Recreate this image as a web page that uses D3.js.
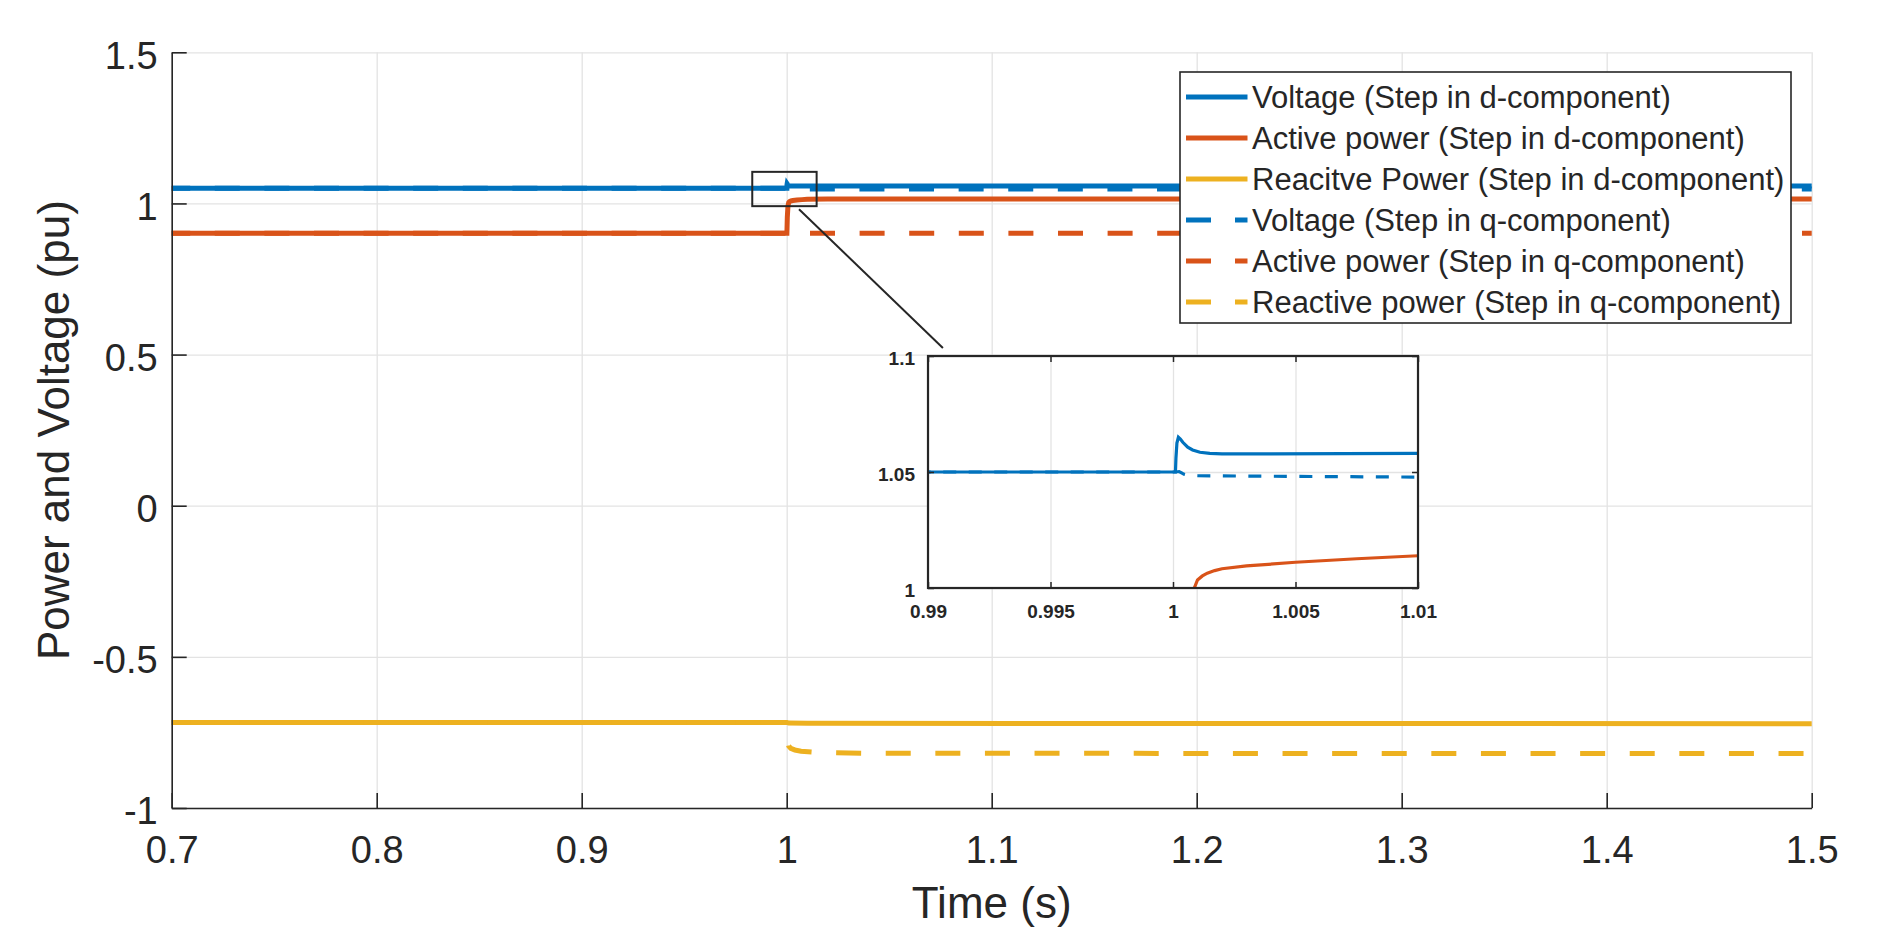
<!DOCTYPE html>
<html><head><meta charset="utf-8">
<script src="https://cdn.jsdelivr.net/npm/d3@7/dist/d3.min.js"></script>
<style>
html,body{margin:0;padding:0;background:#fff;}
svg{display:block;font-family:"Liberation Sans",Arial,Helvetica,sans-serif;}
</style></head><body>
<svg id="chart" width="1884" height="929"></svg>
<script>
// ---- data (time in s, value in pu) ----
const voltageD = [[0.7,1.05],[1.0001,1.05],[1.00012,1.056],[1.00016,1.0625],[1.00022,1.065],[1.0003,1.0642],[1.0004,1.0628],[1.0006,1.0607],[1.0008,1.0595],[1.0011,1.0585],[1.0015,1.058],[1.002,1.0578],[1.004,1.0578],[1.01,1.058],[1.1,1.058],[1.5,1.058]];
const activeD = [[0.7,0.901],[1.0001,0.901],[1.0003,0.955],[1.0006,0.99],[1.00087,1.0],[1.001,1.0035],[1.0012,1.0052],[1.0014,1.0064],[1.0017,1.0075],[1.002,1.0083],[1.003,1.0095],[1.005,1.0111],[1.0075,1.0126],[1.01,1.0139],[1.02,1.0143],[1.05,1.0145],[1.5,1.015]];
const reactiveD = [[0.7,-0.717],[1.0001,-0.717],[1.001,-0.719],[1.01,-0.72],[1.5,-0.721]];
const voltageQ = [[0.7,1.05],[1.0001,1.05],[1.00025,1.0502],[1.00035,1.0496],[1.00045,1.049],[1.0006,1.0486],[1.001,1.0484],[1.005,1.0481],[1.01,1.0478],[1.1,1.0478],[1.5,1.0478]];
const activeQ = [[0.7,0.901],[1.0,0.901],[1.5,0.901]];
const reactiveQ = [[0.7,-0.717],[1.0001,-0.717],[1.0003,-0.775],[1.001,-0.795],[1.002,-0.803],[1.004,-0.808],[1.007,-0.812],[1.015,-0.816],[1.04,-0.819],[1.5,-0.82]];

const seriesNames = ["Voltage (Step in d-component)","Active power (Step in d-component)","Reacitve Power (Step in d-component)","Voltage (Step in q-component)","Active power (Step in q-component)","Reactive power (Step in q-component)"];

const xTicks = [0.7,0.8,0.9,1.0,1.1,1.2,1.3,1.4,1.5];
const xTickLabels = ["0.7","0.8","0.9","1","1.1","1.2","1.3","1.4","1.5"];
const yTicks = [-1,-0.5,0,0.5,1,1.5];
const yTickLabels = ["-1","-0.5","0","0.5","1","1.5"];

const insetXTicks = [0.99,0.995,1.0,1.005,1.01];
const insetXTickLabels = ["0.99","0.995","1","1.005","1.01"];
const insetYTicks = [1.0,1.05,1.1];
const insetYTickLabels = ["1","1.05","1.1"];

// zoom annotation (data units of the main axes)
const zoomBox = {x0:0.9832, x1:1.0146, y0:0.991, y1:1.1045};
const connector = [[1.006,0.981],[1.0762,0.5215]];

// ---- styling ----
const colors = ["#0072BD","#D95319","#EDB120","#0072BD","#D95319","#EDB120"];
const dashed = [false,false,false,true,true,true];
const allSeries = [voltageD,activeD,reactiveD,voltageQ,activeQ,reactiveQ];
const ink = "#262626", gridCol = "#e3e3e3";

const svg = d3.select("#chart");
const x = d3.scaleLinear().domain([0.7,1.5]).range([171.7,1811.7]);
const y = d3.scaleLinear().domain([-1,1.5]).range([808,52.3]);

// grid
svg.append("g").attr("transform",`translate(0,${y.range()[0]})`)
  .call(d3.axisBottom(x).tickValues(xTicks).tickSize(-(y.range()[0]-y.range()[1])).tickFormat(""))
  .call(g=>{g.select(".domain").remove(); g.selectAll("line").attr("stroke",gridCol).attr("stroke-width",1.3);});
svg.append("g").attr("transform",`translate(${x.range()[0]},0)`)
  .call(d3.axisLeft(y).tickValues(yTicks).tickSize(-(x.range()[1]-x.range()[0])).tickFormat(""))
  .call(g=>{g.select(".domain").remove(); g.selectAll("line").attr("stroke",gridCol).attr("stroke-width",1.3);});

// lines
const line = d3.line().x(d=>x(d[0])).y(d=>y(d[1]));
allSeries.forEach((s,i)=>{
  svg.append("path").datum(s).attr("d",line).attr("fill","none")
    .attr("stroke",colors[i]).attr("stroke-width",5)
    .attr("stroke-dasharray",dashed[i]?"25,24.6":null)
    .attr("stroke-dashoffset",dashed[i]?6.5:null);
});

// axes
const fs = 38;
svg.append("g").attr("transform",`translate(0,${y.range()[0]})`)
  .call(d3.axisBottom(x).tickValues(xTicks).tickFormat((d,i)=>xTickLabels[i]).tickSize(-15).tickSizeOuter(0).tickPadding(28))
  .call(g=>{g.select(".domain").attr("stroke",ink).attr("stroke-width",1.6);
    g.selectAll("line").attr("stroke",ink).attr("stroke-width",1.6);
    g.selectAll("text").attr("fill",ink).attr("font-size",fs).attr("font-family",null);});
svg.append("g").attr("transform",`translate(${x.range()[0]},0)`)
  .call(d3.axisLeft(y).tickValues(yTicks).tickFormat((d,i)=>yTickLabels[i]).tickSize(-15).tickSizeOuter(0).tickPadding(14))
  .call(g=>{g.select(".domain").attr("stroke",ink).attr("stroke-width",1.6);
    g.selectAll("line").attr("stroke",ink).attr("stroke-width",1.6);
    g.selectAll("text").attr("fill",ink).attr("font-size",fs).attr("font-family",null).attr("dy","0.42em");});

// axis titles
svg.append("text").attr("x",(x.range()[0]+x.range()[1])/2).attr("y",918)
  .attr("text-anchor","middle").attr("font-size",44).attr("fill",ink).text("Time (s)");
svg.append("text").attr("transform",`translate(68.5,${(y.range()[0]+y.range()[1])/2}) rotate(-90)`)
  .attr("text-anchor","middle").attr("font-size",44).attr("fill",ink).text("Power and Voltage (pu)");

// zoom box + connector
svg.append("rect").attr("x",x(zoomBox.x0)).attr("y",y(zoomBox.y1))
  .attr("width",x(zoomBox.x1)-x(zoomBox.x0)).attr("height",y(zoomBox.y0)-y(zoomBox.y1))
  .attr("fill","none").attr("stroke",ink).attr("stroke-width",2);
svg.append("path").datum(connector).attr("d",line).attr("fill","none").attr("stroke",ink).attr("stroke-width",2);

// ---- inset ----
const xi = d3.scaleLinear().domain([0.99,1.01]).range([928,1418]);
const yi = d3.scaleLinear().domain([1.0,1.1]).range([588,356]);
const iw = xi.range()[1]-xi.range()[0], ih = yi.range()[0]-yi.range()[1];
const inset = svg.append("g");
inset.append("rect").attr("x",xi.range()[0]).attr("y",yi.range()[1]).attr("width",iw).attr("height",ih).attr("fill","#fff");
inset.append("g").attr("transform",`translate(0,${yi.range()[0]})`)
  .call(d3.axisBottom(xi).tickValues(insetXTicks).tickSize(-ih).tickFormat(""))
  .call(g=>{g.select(".domain").remove(); g.selectAll("line").attr("stroke",gridCol).attr("stroke-width",1.3);});
inset.append("g").attr("transform",`translate(${xi.range()[0]},0)`)
  .call(d3.axisLeft(yi).tickValues(insetYTicks).tickSize(-iw).tickFormat(""))
  .call(g=>{g.select(".domain").remove(); g.selectAll("line").attr("stroke",gridCol).attr("stroke-width",1.3);});
svg.append("clipPath").attr("id","insetClip").append("rect")
  .attr("x",xi.range()[0]).attr("y",yi.range()[1]).attr("width",iw).attr("height",ih);
const lineI = d3.line().x(d=>xi(d[0])).y(d=>yi(d[1]));
const Pi = 25.5;
const Lstar = xi(1.00103)-xi(0.7);
const offI = ((Pi - (Lstar % Pi)) % Pi + Pi) % Pi;
const insetLines = inset.append("g").attr("clip-path","url(#insetClip)");
allSeries.forEach((s,i)=>{
  insetLines.append("path").datum(s).attr("d",lineI).attr("fill","none")
    .attr("stroke",colors[i]).attr("stroke-width",3.2)
    .attr("stroke-dasharray",dashed[i]?"13,12.5":null)
    .attr("stroke-dashoffset",dashed[i]?offI:null);
});
const ifs = 19;
function insetAxis(gen, tr, isY){
  inset.append("g").attr("transform",tr).call(gen)
    .call(g=>{g.select(".domain").remove();
      g.selectAll("line").attr("stroke",ink).attr("stroke-width",1.5);
      g.selectAll("text").attr("fill",ink).attr("font-size",ifs).attr("font-weight","bold").attr("font-family",null);
      if(isY) g.selectAll("text").attr("dy","0.45em");});
}
insetAxis(d3.axisBottom(xi).tickValues(insetXTicks).tickFormat((d,i)=>insetXTickLabels[i]).tickSize(-6).tickSizeOuter(0).tickPadding(16.5), `translate(0,${yi.range()[0]})`, false);
insetAxis(d3.axisTop(xi).tickValues(insetXTicks).tickFormat("").tickSize(-6).tickSizeOuter(0), `translate(0,${yi.range()[1]})`, false);
insetAxis(d3.axisLeft(yi).tickValues(insetYTicks).tickFormat((d,i)=>insetYTickLabels[i]).tickSize(-6).tickSizeOuter(0).tickPadding(13), `translate(${xi.range()[0]},0)`, true);
insetAxis(d3.axisRight(yi).tickValues(insetYTicks).tickFormat("").tickSize(-6).tickSizeOuter(0), `translate(${xi.range()[1]},0)`, true);
inset.append("rect").attr("x",xi.range()[0]).attr("y",yi.range()[1]).attr("width",iw).attr("height",ih)
  .attr("fill","none").attr("stroke",ink).attr("stroke-width",2.2);

// ---- legend ----
const lg = {x:1180, y:72, w:611, h:251, row0:97, step:41, s0:1186, s1:1247.5, tx:1252};
const legend = svg.append("g");
legend.append("rect").attr("x",lg.x).attr("y",lg.y).attr("width",lg.w).attr("height",lg.h)
  .attr("fill","#fff").attr("stroke",ink).attr("stroke-width",1.6);
seriesNames.forEach((name,i)=>{
  const yy = lg.row0 + i*lg.step;
  legend.append("line").attr("x1",lg.s0).attr("x2",lg.s1).attr("y1",yy).attr("y2",yy)
    .attr("stroke",colors[i]).attr("stroke-width",5)
    .attr("stroke-dasharray",dashed[i]?"25,24":null);
  legend.append("text").attr("x",lg.tx).attr("y",yy).attr("dy","0.36em")
    .attr("font-size",31).attr("fill",ink).text(name);
});
</script>
</body></html>
